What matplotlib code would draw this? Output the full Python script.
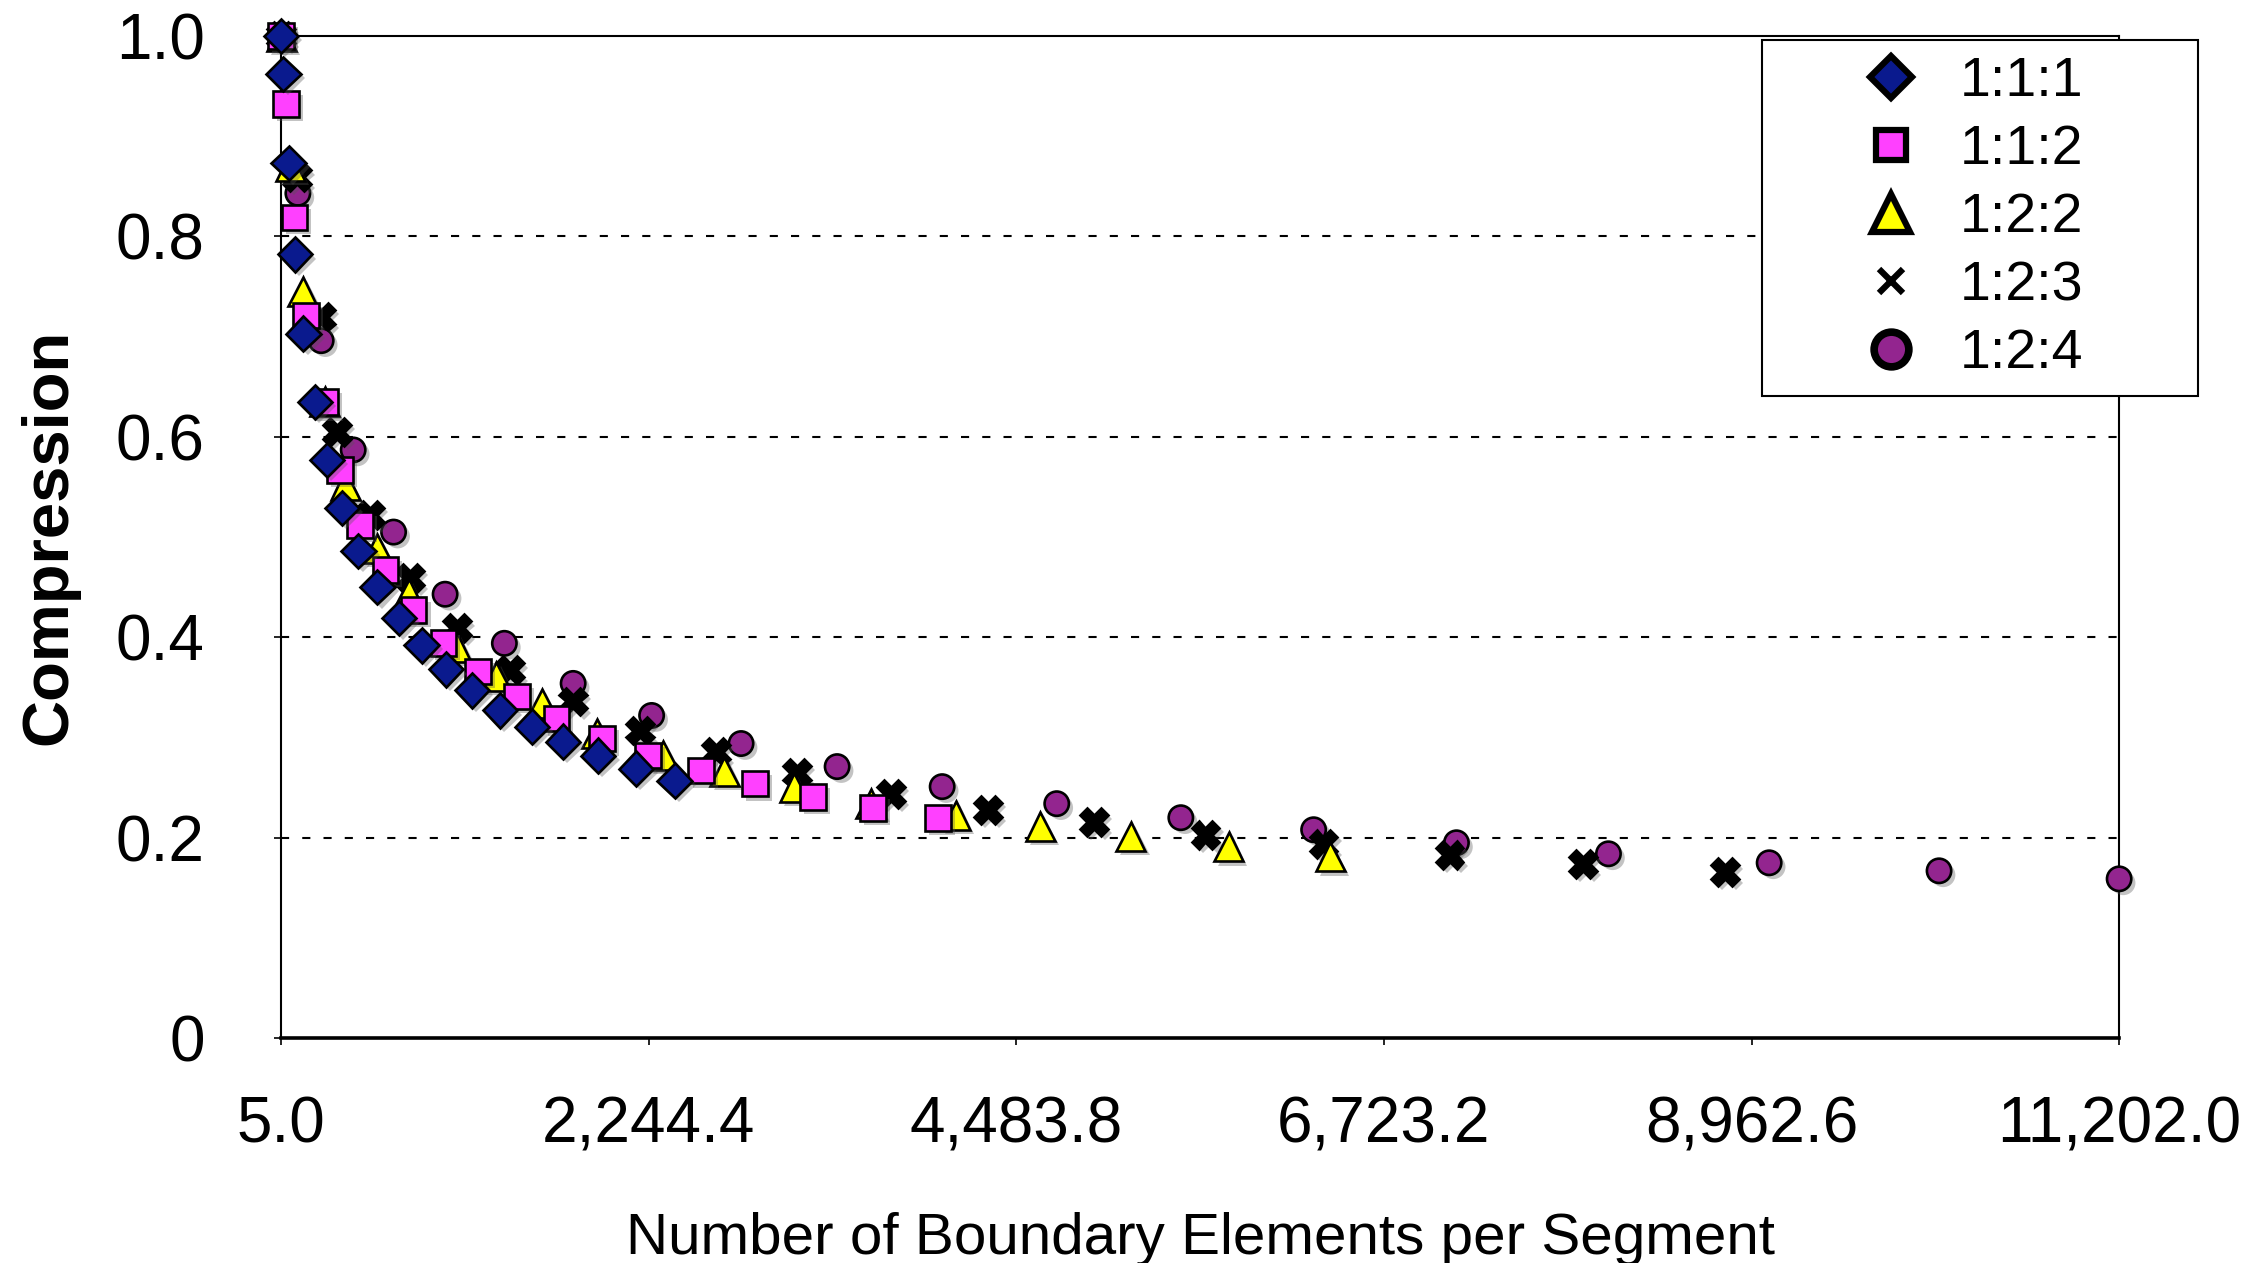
import matplotlib
matplotlib.use("Agg")
import matplotlib.pyplot as plt
import matplotlib.patheffects as pe
from matplotlib.lines import Line2D
from matplotlib.ticker import FuncFormatter

plt.rcParams["font.family"] = ["Liberation Sans", "DejaVu Sans"]

# data
x_111 = [5, 19, 50, 90, 141, 212, 283, 375, 476, 592, 724, 861, 1009, 1167, 1340, 1534, 1724, 1937, 2168, 2402]
y_111 = [1.0, 0.962, 0.873, 0.782, 0.703, 0.635, 0.577, 0.529, 0.486, 0.450, 0.419, 0.392, 0.368, 0.347, 0.327, 0.311, 0.296, 0.282, 0.269, 0.257]

x_112 = [5, 35, 86, 155, 273, 364, 486, 640, 812, 994, 1205, 1441, 1682, 1959, 2241, 2564, 2890, 3245, 3611, 4005]
y_112 = [1.0, 0.932, 0.819, 0.721, 0.635, 0.567, 0.512, 0.467, 0.427, 0.394, 0.366, 0.341, 0.319, 0.299, 0.282, 0.267, 0.254, 0.241, 0.230, 0.220]

x_122 = [5, 60, 137, 270, 395, 590, 781, 1075, 1317, 1594, 1929, 2332, 2706, 3131, 3597, 4114, 4630, 5181, 5777, 6396]
y_122 = [1.0, 0.870, 0.745, 0.635, 0.552, 0.489, 0.444, 0.390, 0.361, 0.334, 0.304, 0.282, 0.266, 0.250, 0.234, 0.222, 0.211, 0.201, 0.191, 0.181]

x_123 = [5, 100, 250, 345, 547, 791, 1075, 1400, 1784, 2192, 2655, 3150, 3720, 4311, 4956, 5636, 6355, 7123, 7937, 8801]
y_123 = [1.0, 0.859, 0.720, 0.605, 0.522, 0.459, 0.409, 0.367, 0.336, 0.307, 0.286, 0.265, 0.244, 0.228, 0.216, 0.203, 0.194, 0.183, 0.174, 0.166]

x_124 = [5, 107, 249, 444, 690, 1004, 1365, 1784, 2262, 2807, 3392, 4032, 4730, 5486, 6295, 7165, 8091, 9070, 10105, 11202]
y_124 = [1.0, 0.843, 0.696, 0.587, 0.505, 0.443, 0.394, 0.354, 0.322, 0.294, 0.271, 0.251, 0.234, 0.220, 0.208, 0.195, 0.184, 0.175, 0.167, 0.159]

x_ticks = [5.0, 2244.4, 4483.8, 6723.2, 8962.6, 11202.0]
y_ticks = [0, 0.2, 0.4, 0.6, 0.8, 1.0]
y_ticklabels = ["0", "0.2", "0.4", "0.6", "0.8", "1.0"]

fig = plt.figure(figsize=(22.58, 12.63), dpi=100)
ax = fig.add_axes([0.1245, 0.178, 0.814, 0.7935])

shadow = [pe.SimplePatchShadow(offset=(3, -3), shadow_rgbFace="#555555", alpha=0.35), pe.Normal()]

# (label, x, y, marker, size, face, zorder) -- later series sit underneath
series = [
    ("1:2:4", x_124, y_124, "o", 17.5, "#93258F", 3),
    ("1:2:3", x_123, y_123, "X", 20, "black", 4),
    ("1:2:2", x_122, y_122, "^", 21, "#FFFF00", 5),
    ("1:1:2", x_112, y_112, "s", 18.5, "#FF40FF", 6),
    ("1:1:1", x_111, y_111, "D", 17.5, "#0A1A8E", 7),
]
# legend glyphs are drawn larger with heavy outlines
legend_style = {
    "1:1:1": dict(marker="D", markersize=21, markeredgewidth=4.5),
    "1:1:2": dict(marker="s", markersize=22, markeredgewidth=4.5),
    "1:2:2": dict(marker="^", markersize=27, markeredgewidth=4.5),
    "1:2:3": dict(marker="x", markersize=17, markeredgewidth=4.5),
    "1:2:4": dict(marker="o", markersize=25, markeredgewidth=5.5),
}
handles = {}
for label, xs, ys, mk, ms, fc, z in series:
    ax.plot(xs, ys, linestyle="none", marker=mk, markersize=ms,
            markerfacecolor=fc, markeredgecolor="black", markeredgewidth=1.9,
            clip_on=False, zorder=z, path_effects=shadow)
    handles[label] = Line2D([], [], linestyle="none", markerfacecolor=fc,
                            markeredgecolor="black", **legend_style[label])

# dashed gridlines
for yv in y_ticks[1:-1]:
    ax.axhline(yv, color="black", linewidth=1.5, linestyle=(0, (3.9, 6.3)), zorder=1)

ax.set_xlim(x_ticks[0], x_ticks[-1])
ax.set_ylim(0, 1.0)
ax.set_xticks(x_ticks)
ax.xaxis.set_major_formatter(FuncFormatter(lambda v, p: f"{v:,.1f}"))
ax.set_yticks(y_ticks)
ax.set_yticklabels(y_ticklabels)
ax.tick_params(axis="both", labelsize=46, length=5, width=1.2, direction="out")
ax.tick_params(axis="x", pad=36)
ax.tick_params(axis="y", pad=50)

for side in ["left", "top", "right"]:
    ax.spines[side].set_linewidth(1.5)
ax.spines["bottom"].set_linewidth(2.6)

ax.set_xlabel("Number of Boundary Elements per Segment", fontsize=42, labelpad=41)
ax.set_ylabel("Compression", fontsize=47, fontweight="bold", labelpad=26)

order = ["1:1:1", "1:1:2", "1:2:2", "1:2:3", "1:2:4"]
leg = ax.legend([handles[k] for k in order], order, loc="upper left",
                bbox_to_anchor=(0.7803, 0.690, 0.1931, 0.278),
                bbox_transform=fig.transFigure, mode="expand",
                fontsize=40, frameon=True, fancybox=False, framealpha=1,
                edgecolor="black", borderpad=0.28, labelspacing=0.29,
                handletextpad=-0.8, handlelength=4.08, borderaxespad=0)
leg.get_frame().set_linewidth(1.5)
leg.set_zorder(10)

fig.savefig("out.png", dpi=100)
